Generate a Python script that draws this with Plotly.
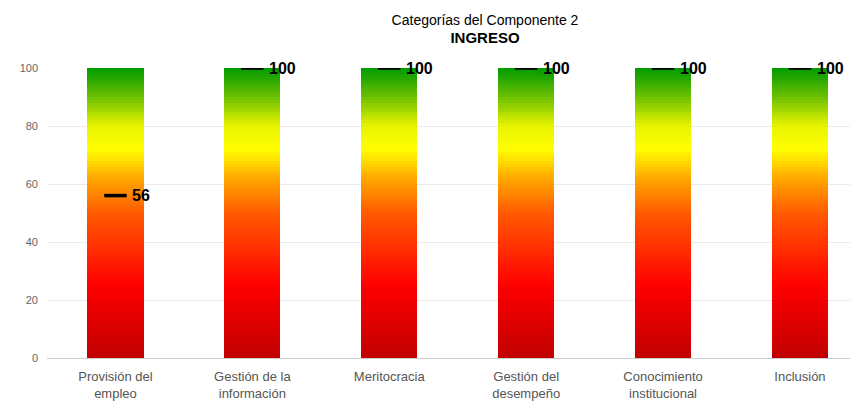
import plotly.graph_objects as go
from plotly.colors import sample_colorscale

categories = [
    "Provisión del<br>empleo",
    "Gestión de la<br>información",
    "Meritocracia",
    "Gestión del<br>desempeño",
    "Conocimiento<br>institucional",
    "Inclusión",
]
values = [56, 100, 100, 100, 100, 100]
scale_max = 100
y_ticks = [0, 20, 40, 60, 80, 100]

# semaphore gradient, bottom (0) to top (100)
gradient = [
    [0.0, "#c00000"],
    [0.25, "#ff0000"],
    [0.5, "#ff5a00"],
    [0.62, "#ffa800"],
    [0.72, "#ffff00"],
    [0.8, "#e8f400"],
    [0.9, "#6cc000"],
    [1.0, "#009a00"],
]

# split each background bar into thin slices to fake a vertical gradient
steps = 100
step = scale_max / steps
seg_x, seg_y, seg_base, seg_col = [], [], [], []
for i, cat in enumerate(categories):
    for k in range(steps):
        seg_x.append(i)
        seg_y.append(step * 1.02)
        seg_base.append(k * step)
        seg_col.append(sample_colorscale(gradient, (k + 0.5) / steps)[0])

fig = go.Figure()
fig.add_trace(go.Bar(
    x=seg_x, y=seg_y, base=seg_base,
    marker=dict(color=seg_col, line=dict(width=0)),
    width=0.41, hoverinfo="skip", showlegend=False,
))
fig.add_trace(go.Scatter(
    x=list(range(len(categories))), y=values,
    mode="markers",
    marker=dict(symbol="line-ew", size=16, line=dict(width=3.5, color="black")),
    showlegend=False,
))

# value labels to the right of each dash
for i, v in enumerate(values):
    fig.add_annotation(
        x=i, y=v, text=f"<b>{v}</b>", showarrow=False,
        xanchor="left", yanchor="middle", xshift=15,
        font=dict(family="Liberation Sans, Arial", size=16, color="black"),
    )

# note: page body adds an 8px offset, margins below compensate for it
fig.update_layout(
    width=858, height=404,
    barmode="overlay",
    bargap=0,
    plot_bgcolor="white", paper_bgcolor="white",
    margin=dict(l=39, r=8, t=60, b=54),
    font=dict(family="Liberation Sans, Arial", size=12, color="#555555"),
    title=dict(
        text="Categorías del Componente 2<br><span style='font-size:15px'><b>INGRESO</b></span>",
        x=477 / 858, xref="container", xanchor="center",
        y=1 - 17 / 404, yanchor="top",
        font=dict(size=14, color="black"),
    ),
    xaxis=dict(
        range=[-0.5, 5.424],
        tickmode="array",
        tickvals=list(range(len(categories))),
        ticktext=categories,
        showgrid=False, zeroline=False, automargin=False,
        ticks="", ticklabelstandoff=9,
        tickfont=dict(size=13, color="#555555"),
    ),
    yaxis=dict(
        range=[0, scale_max],
        tickvals=y_ticks,
        showgrid=True, gridcolor="#ebebeb", gridwidth=1,
        zeroline=True, zerolinecolor="#cccccc", zerolinewidth=1,
        ticks="", ticklabelstandoff=8, automargin=False,
        tickfont=dict(size=11, color="#666666"),
    ),
)

fig.write_html("out.html")
